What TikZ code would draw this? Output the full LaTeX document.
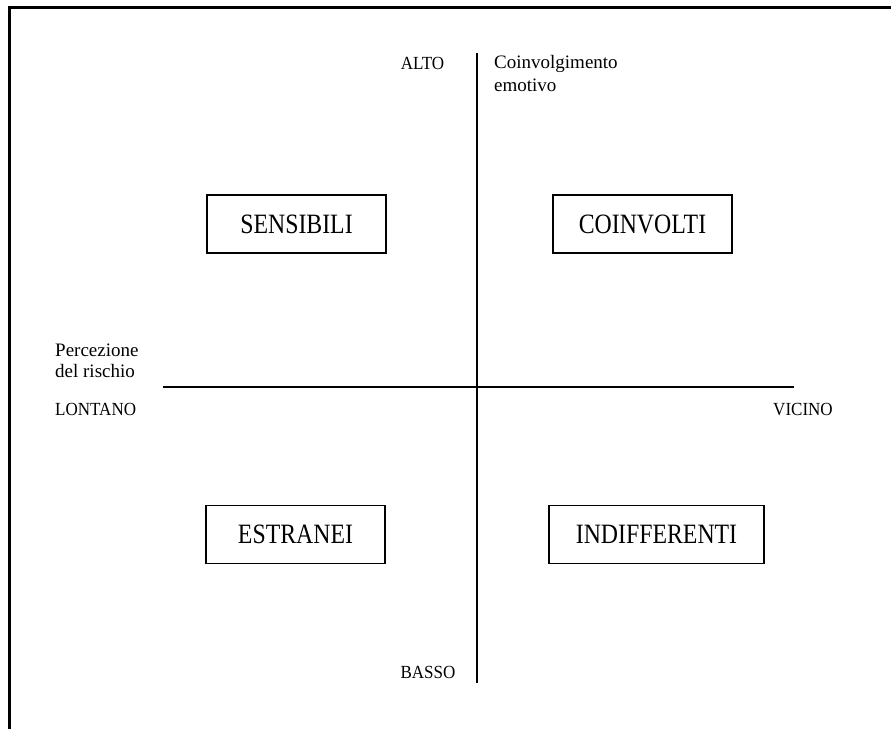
\documentclass[tikz,border=0pt]{standalone}
\usepackage{fontspec}
\setmainfont{Liberation Serif}
\newfontfamily\capsfont[FakeStretch=0.92]{Liberation Serif}
\newfontfamily\lowfont{Liberation Serif}
\newfontfamily\boxfont[FakeStretch=0.85]{Liberation Serif}
\begin{document}
\begin{tikzpicture}[x=1pt,y=-1pt,
  quadbox/.style={draw,line width=1.8pt,minimum width=179pt,minimum height=58pt,inner sep=0pt,
    font=\boxfont\fontsize{28}{30}\selectfont},
  caplabel/.style={inner sep=0pt,anchor=base,font=\capsfont\fontsize{18.5}{22}\selectfont},
  lowlabel/.style={inner sep=0pt,anchor=base west,font=\lowfont\fontsize{19}{22}\selectfont},
  axis/.style={line width=1.3pt}]
\useasboundingbox (0,0) rectangle (891,729);
% frame (top and left only)
\coordinate (fbl) at (9,729);
\coordinate (ftl) at (9,7);
\coordinate (ftr) at (891,7);
\draw[line width=3pt,line join=miter] (fbl) -- (ftl) -- (ftr);
% axes
\coordinate (vtop) at (477,53);
\coordinate (vbot) at (477,683);
\coordinate (hleft) at (163,387);
\coordinate (hright) at (794,387);
\draw[axis] (vtop) -- (vbot);
\draw[axis] (hleft) -- (hright);
% axis labels
\node[caplabel] (alto) at (422.5,69) {ALTO};
\node[caplabel] (basso) at (428,678) {BASSO};
\node[caplabel,anchor=base west] (lontano) at (55,415) {LONTANO};
\node[caplabel] (vicino) at (803,415) {VICINO};
\node[lowlabel] (coinv) at (494,68) {Coinvolgimento};
\node[lowlabel] (emot) at (494,91) {emotivo};
\node[lowlabel] (perc) at (55,356) {Percezione};
\node[lowlabel] (risch) at (55,377) {del rischio};
% quadrant boxes
\node[quadbox] (sens) at (296.5,224) {SENSIBILI};
\node[quadbox] (coinvolti) at (642.5,224) {COINVOLTI};
\node[quadbox] (estr) at (295.5,534.5) {ESTRANEI};
\node[quadbox,minimum width=215pt] (indiff) at (656.5,534.5) {INDIFFERENTI};
\end{tikzpicture}
\end{document}
